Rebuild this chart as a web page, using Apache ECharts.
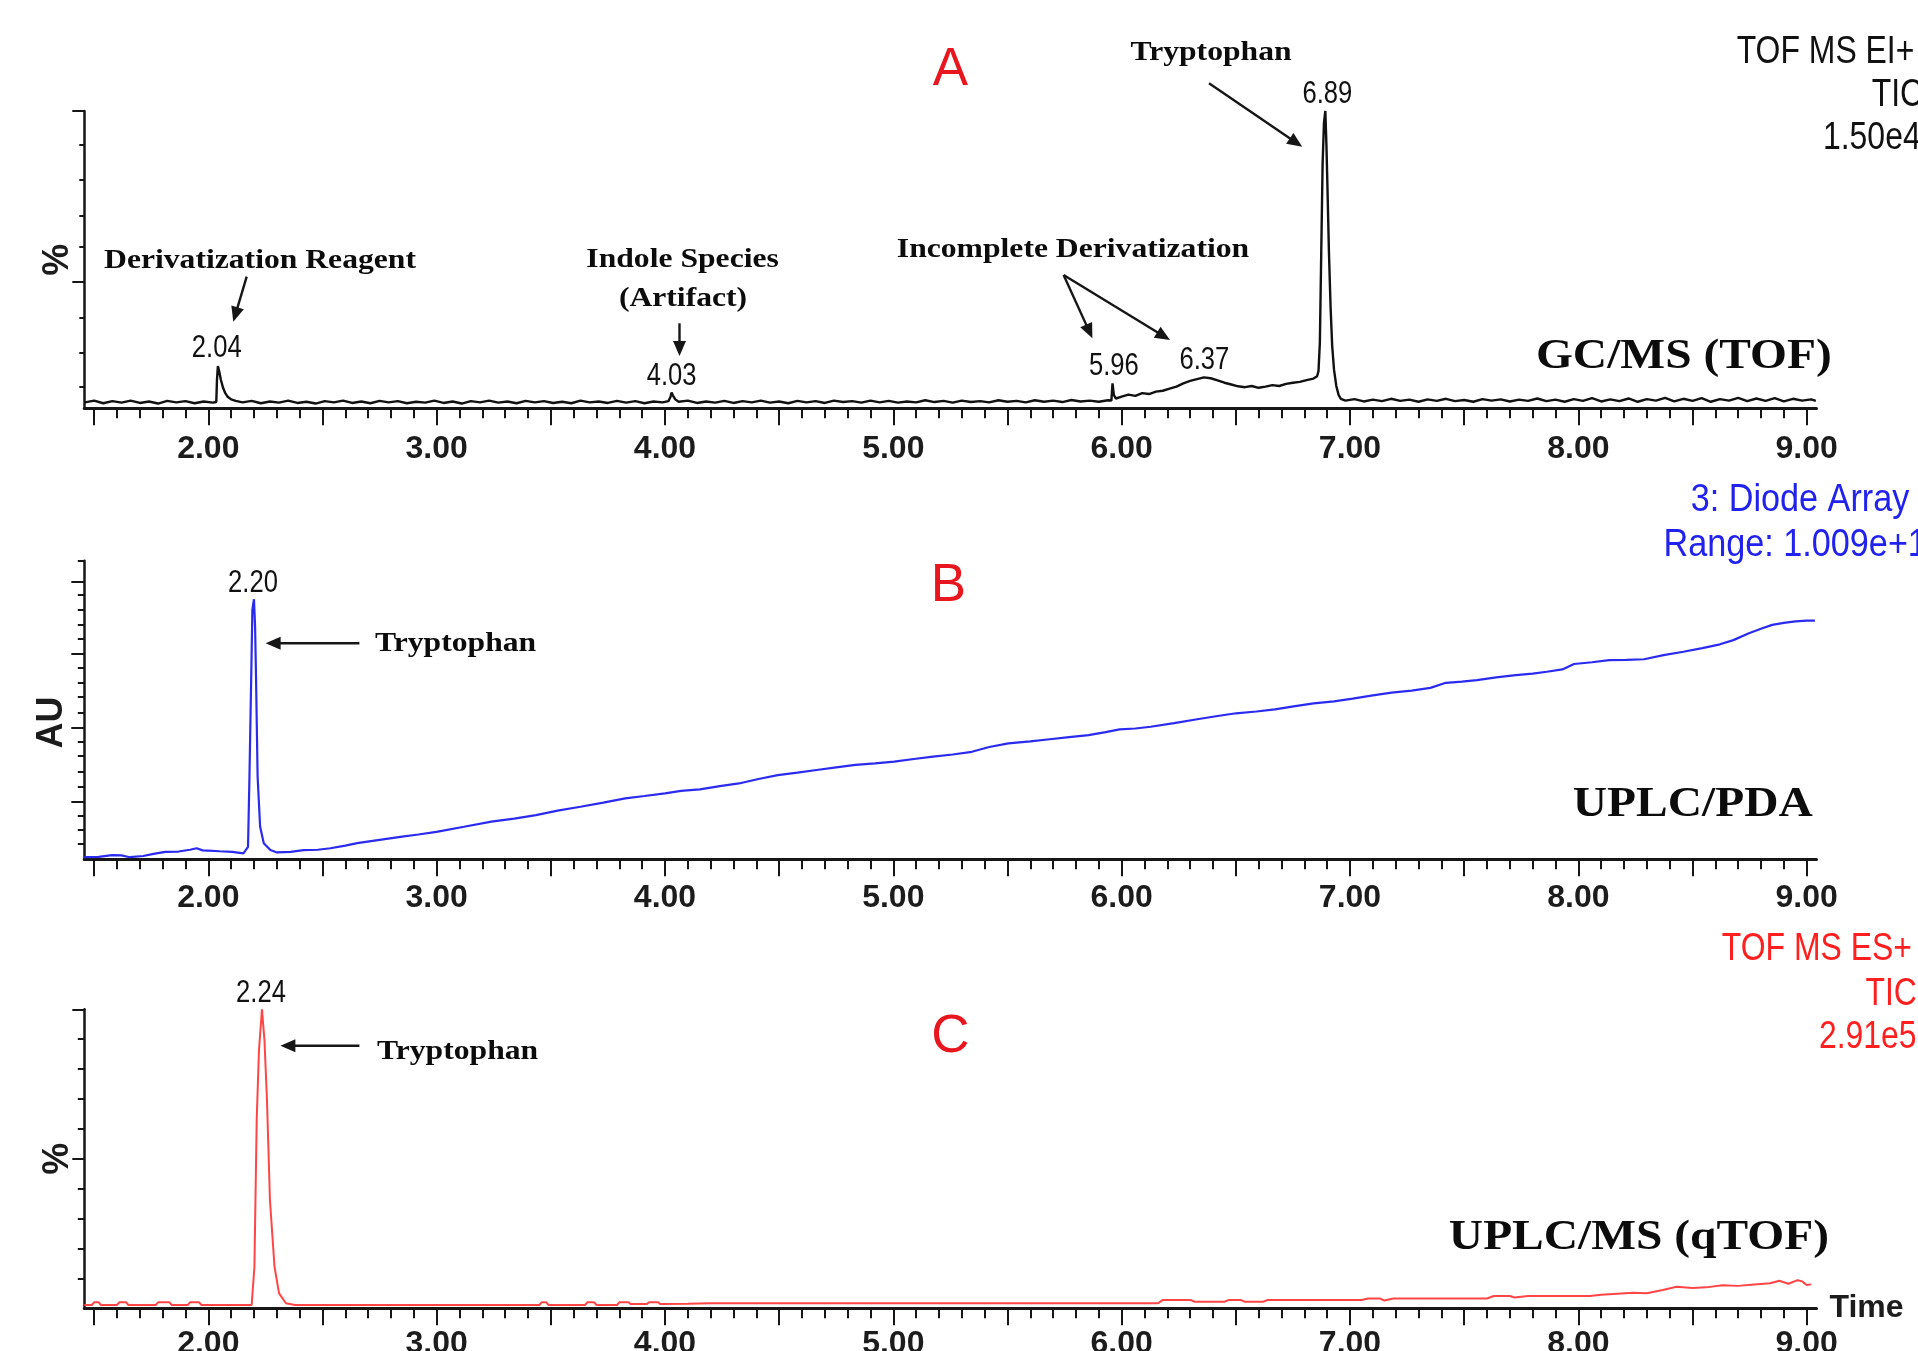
<!DOCTYPE html>
<html><head><meta charset="utf-8">
<script src="https://cdn.jsdelivr.net/npm/echarts@6/dist/echarts.min.js"></script>
<style>html,body{margin:0;padding:0;background:#fff;}#chart{width:1918px;height:1351px;}</style>
</head><body><div id="chart"></div>
<script>
// ---------------- DATA ----------------
const xMin = 1.457, xMax = 9.043;
const xLabelValues = [2, 3, 4, 5, 6, 7, 8, 9];
const xLongTickValues = [1.5, 2, 2.5, 3, 3.5, 4, 4.5, 5, 5.5, 6, 6.5, 7, 7.5, 8, 8.5, 9];
const xShortTickValues = [];
for (let i = 15; i <= 90; i++) xShortTickValues.push(i / 10);

// y tick positions (percent of full scale)
const yTicksA = [7.3, 18.7, 30.6, 54.4, 64.8, 76.8, 88.6];
const yLongTicksA = [42.6, 100];
const yMinorTicksB = [5.1, 9.8, 14.5, 24.3, 29.4, 34.6, 39.4, 49.1, 54.5, 59.2, 64.0, 73.7, 78.5, 83.5, 88.5, 100];
const yMajorTicksB = [19.3, 44.2, 69.0, 93.0];
const yTicksC = [10, 20, 30, 40, 60, 70, 80, 90];
const yLongTicksC = [50, 100];

// Panel A : GC/MS (TOF) TIC, % of 1.50e4
const aTrace = [
[1.46,2.0],[1.50,2.6],[1.54,1.7],[1.58,2.4],[1.62,1.9],[1.66,2.6],[1.70,1.8],[1.74,2.3],[1.78,1.6],[1.82,2.5],[1.86,2.0],[1.90,2.4],[1.94,1.7],[1.98,2.3],[2.02,1.9],
[2.035,2.1],[2.038,9.5],[2.042,14.2],[2.048,12.4],[2.055,9.6],[2.065,6.8],[2.075,5.0],[2.085,3.9],[2.10,3.0],[2.12,2.5],
[2.15,2.0],[2.19,2.5],[2.23,1.7],[2.27,2.3],[2.31,1.9],[2.35,2.6],[2.39,1.8],[2.43,2.2],[2.47,1.6],[2.51,2.4],[2.55,2.0],[2.59,2.6],[2.63,1.8],[2.67,2.3],[2.71,1.7],[2.75,2.5],[2.79,2.0],[2.83,2.4],[2.87,1.7],[2.91,2.2],[2.95,1.9],[2.99,2.6],[3.03,1.8],[3.07,2.3],[3.11,1.6],[3.15,2.4],[3.19,2.0],[3.23,2.6],[3.27,1.9],[3.31,2.3],[3.35,1.7],[3.39,2.5],[3.43,2.0],[3.47,2.4],[3.51,1.8],[3.55,2.2],[3.59,1.7],[3.63,2.6],[3.67,2.0],[3.71,2.3],[3.75,1.8],[3.79,2.5],[3.83,1.9],[3.87,2.4],[3.91,1.7],[3.95,2.3],[3.99,2.0],
[4.015,2.4],[4.024,3.8],[4.029,5.3],[4.035,4.3],[4.045,3.0],[4.06,2.2],
[4.10,2.6],[4.14,1.8],[4.18,2.3],[4.22,1.9],[4.26,2.5],[4.30,1.8],[4.34,2.4],[4.38,2.0],[4.42,2.6],[4.46,1.9],[4.50,2.3],[4.54,1.7],[4.58,2.5],[4.62,2.0],[4.66,2.4],[4.70,1.8],[4.74,2.6],[4.78,2.1],[4.82,2.4],[4.86,1.9],[4.90,2.6],[4.94,2.0],[4.98,2.5],[5.02,1.9],[5.06,2.3],[5.10,2.0],[5.14,2.7],[5.18,2.1],[5.22,2.5],[5.26,1.9],[5.30,2.6],[5.34,2.1],[5.38,2.4],[5.42,2.0],[5.46,2.7],[5.50,2.2],[5.54,2.5],[5.58,2.0],[5.62,2.7],[5.66,2.2],[5.70,2.6],[5.74,2.1],[5.78,2.8],[5.82,2.3],[5.86,2.6],[5.90,2.2],[5.94,2.7],
[5.955,2.6],[5.960,8.4],[5.966,4.4],[5.975,3.3],[6.00,3.9],[6.03,4.6],[6.06,4.2],[6.09,5.1],[6.12,4.8],[6.15,5.6],[6.18,5.9],[6.21,6.6],[6.24,7.3],[6.27,8.4],[6.30,9.2],[6.33,9.8],[6.36,10.4],[6.39,10.1],[6.42,9.4],[6.45,8.6],[6.48,8.0],[6.51,7.4],[6.54,7.1],[6.57,7.5],[6.60,6.9],[6.63,7.3],[6.66,7.8],[6.69,7.5],[6.72,8.2],[6.75,8.6],[6.78,8.9],[6.81,9.5],[6.84,10.0],[6.856,10.8],
[6.862,12.5],[6.868,22],[6.874,52],[6.880,82],[6.886,96],[6.892,100],[6.897,88],[6.902,72],[6.908,52],[6.915,34],[6.922,21],[6.930,13],[6.940,7.5],[6.950,4.5],[6.960,3.2],
[6.98,2.6],[7.02,3.1],[7.06,2.3],[7.10,2.9],[7.14,2.4],[7.18,3.2],[7.22,2.5],[7.26,2.9],[7.30,2.2],[7.34,3.0],[7.38,2.5],[7.42,3.2],[7.46,2.4],[7.50,2.8],[7.54,2.2],[7.58,3.1],[7.62,2.6],[7.66,3.0],[7.70,2.3],[7.74,2.9],[7.78,2.5],[7.82,3.3],[7.86,2.4],[7.90,2.9],[7.94,2.2],[7.98,3.1],[8.02,2.5],[8.06,3.4],[8.10,2.3],[8.14,3.0],[8.18,2.4],[8.22,3.3],[8.26,2.2],[8.30,3.1],[8.34,2.6],[8.38,3.5],[8.42,2.3],[8.46,3.2],[8.50,2.5],[8.54,3.4],[8.58,2.2],[8.62,3.1],[8.66,2.6],[8.70,3.5],[8.74,2.4],[8.78,3.3],[8.82,2.5],[8.86,3.4],[8.90,2.3],[8.94,3.2],[8.98,2.6],[9.02,3.0],[9.04,2.5]
];

// Panel B : UPLC/PDA, % of full scale
const bTrace = [
[1.457,0.7],[1.52,0.8],[1.578,1.4],[1.62,1.3],[1.656,0.7],[1.715,1.1],[1.76,1.8],[1.812,2.5],[1.87,2.6],[1.92,3.2],[1.949,3.7],[1.975,3.0],[2.0,2.9],[2.05,2.7],[2.105,2.5],[2.154,2.0],[2.174,4.2],
[2.18,26.6],[2.188,61.2],[2.193,83.5],[2.2,87.1],[2.205,77.9],[2.209,61.2],[2.216,27.7],[2.227,10.9],[2.243,5.4],[2.272,3.1],[2.301,2.3],
[2.36,2.5],[2.417,3.1],[2.48,3.2],[2.535,3.7],[2.6,4.6],[2.652,5.4],[2.75,6.5],[2.849,7.6],[2.92,8.3],[2.999,9.2],[3.12,10.9],[3.24,12.6],[3.34,13.6],[3.435,14.8],[3.53,16.3],[3.63,17.6],[3.73,19.0],[3.826,20.4],[3.91,21.2],[4.0,22.1],[4.07,22.9],[4.153,23.4],[4.24,24.5],[4.324,25.4],[4.41,26.9],[4.494,28.2],[4.58,29.0],[4.664,29.9],[4.75,30.8],[4.834,31.6],[4.92,32.1],[5.004,32.7],[5.09,33.6],[5.174,34.4],[5.26,35.1],[5.344,36.0],[5.42,37.6],[5.504,38.8],[5.6,39.5],[5.685,40.2],[5.77,40.9],[5.855,41.6],[5.93,42.6],[5.991,43.5],[6.06,43.8],[6.127,44.4],[6.23,45.6],[6.331,46.9],[6.42,48.0],[6.501,48.9],[6.59,49.5],[6.671,50.2],[6.76,51.3],[6.841,52.2],[6.93,52.9],[7.012,53.8],[7.1,54.9],[7.182,55.8],[7.27,56.5],[7.352,57.4],[7.42,59.1],[7.49,59.5],[7.556,60.0],[7.64,60.9],[7.726,61.7],[7.80,62.2],[7.862,62.8],[7.93,63.6],[7.981,65.4],[8.06,66.0],[8.135,66.7],[8.21,66.8],[8.288,67.0],[8.373,68.4],[8.46,69.5],[8.543,70.7],[8.62,72.0],[8.679,73.4],[8.747,75.7],[8.80,77.2],[8.849,78.5],[8.9,79.2],[8.951,79.7],[9.0,79.9],[9.036,79.9]
];

// Panel C : UPLC/MS (qTOF) TIC, % of 2.91e5
const cTrace = [
[1.457,1.1],[1.49,1.1],[1.50,2.0],[1.52,2.0],[1.53,1.1],[1.60,1.1],[1.61,2.0],[1.64,2.0],[1.65,1.1],[1.77,1.1],[1.78,2.0],[1.83,2.0],[1.84,1.1],[1.91,1.1],[1.92,2.0],[1.96,2.0],[1.97,1.1],[2.19,1.1],
[2.202,13.9],[2.212,63],[2.222,86.4],[2.235,100],[2.246,89.7],[2.257,69.7],[2.27,36.2],[2.29,13.9],[2.31,5.0],[2.34,1.7],[2.38,1.1],
[3.45,1.1],[3.46,2.0],[3.48,2.0],[3.49,1.1],[3.65,1.1],[3.66,2.0],[3.69,2.0],[3.70,1.1],[3.79,1.1],[3.80,2.0],[3.84,2.0],[3.85,1.4],[3.92,1.4],[3.93,2.0],[3.97,2.0],[3.98,1.4],[4.10,1.5],[4.20,1.7],[4.60,1.7],[5.00,1.7],[5.50,1.7],[6.16,1.7],
[6.18,2.8],[6.30,2.8],[6.32,2.2],[6.45,2.2],[6.47,2.8],[6.52,2.8],[6.54,2.2],[6.62,2.2],[6.64,2.8],[7.05,2.8],[7.08,3.3],[7.13,3.3],[7.15,2.6],[7.19,3.3],[7.60,3.3],[7.63,4.1],[7.70,4.1],[7.72,3.6],[7.78,4.1],[8.05,4.1],[8.10,4.5],[8.24,5.2],[8.30,5.0],[8.37,6.1],[8.43,7.2],[8.50,6.8],[8.56,7.0],[8.63,7.7],[8.70,7.5],[8.77,8.0],[8.84,8.4],[8.88,9.2],[8.92,8.2],[8.96,9.4],[8.98,9.0],[9.00,7.8],[9.02,8.0]
];

// ---------------- FONTS ----------------
function fontAvailable(name) {
  const ctx = document.createElement('canvas').getContext('2d');
  ctx.font = '40px monospace';
  const w1 = ctx.measureText('2.00 TOF MS Time').width;
  ctx.font = '40px "' + name + '", monospace';
  const w2 = ctx.measureText('2.00 TOF MS Time').width;
  return Math.abs(w1 - w2) > 0.5;
}
const narrowOK = fontAvailable('Liberation Sans Narrow');
const axisFont = narrowOK ? 'Liberation Sans Narrow' : 'Liberation Sans';
const axisFontSize = narrowOK ? 37 : 32;
const axisFontWeight = narrowOK ? 'normal' : 'bold';

// ---------------- LAYOUT ----------------
const gridTops = [111, 560.7, 1009.3];
const gridBottoms = [408.3, 859.3, 1308.3];
const labelMargins = [24.5, 22.5, 20];
const gridLeft = 84.3, gridRight = 1816.5;
const W = 1918, H = 1351;
const INK = '#161616';

const grids = gridTops.map((t, i) => ({
  left: gridLeft, width: gridRight - gridLeft, top: t, height: gridBottoms[i] - t,
  outerBoundsMode: 'none', containLabel: false
}));

function xAxesFor(g, withName) {
  return [
    {
      gridIndex: g, type: 'value', min: xMin, max: xMax, position: 'bottom',
      axisLine: { show: true, onZero: false, lineStyle: { color: INK, width: 3 } },
      axisTick: { show: true, length: 17, customValues: xLongTickValues, lineStyle: { color: INK, width: 2 } },
      axisLabel: { show: true, customValues: xLabelValues, margin: labelMargins[g], formatter: v => v.toFixed(2),
        fontFamily: axisFont, fontSize: axisFontSize, fontWeight: axisFontWeight, color: '#1c1c1c' },
      splitLine: { show: false },
      name: withName ? 'Time' : '', nameLocation: 'end', nameGap: 13,
      nameTextStyle: { fontFamily: axisFont, fontSize: axisFontSize, fontWeight: axisFontWeight, color: '#1c1c1c', align: 'left', verticalAlign: 'middle' }
    },
    {
      gridIndex: g, type: 'value', min: xMin, max: xMax, position: 'bottom',
      axisLine: { show: false },
      axisTick: { show: true, length: 10, customValues: xShortTickValues, lineStyle: { color: INK, width: 2 } },
      axisLabel: { show: false }, splitLine: { show: false }
    }
  ];
}

function yAxesFor(g, shortTicks, shortLen, longTicks, longLen, name, nameGap, namePad) {
  return [
    {
      gridIndex: g, type: 'value', min: 0, max: 100, position: 'left',
      axisLine: { show: true, onZero: false, lineStyle: { color: INK, width: 2.5 } },
      axisTick: { show: true, length: shortLen, customValues: shortTicks, lineStyle: { color: INK, width: 2 } },
      axisLabel: { show: false }, splitLine: { show: false },
      name: name, nameLocation: 'middle', nameRotate: 90, nameGap: nameGap,
      nameTextStyle: { fontFamily: 'Liberation Sans', fontSize: 36, fontWeight: 'bold', color: '#1c1c1c', padding: namePad }
    },
    {
      gridIndex: g, type: 'value', min: 0, max: 100, position: 'left', offset: 0,
      axisLine: { show: false },
      axisTick: { show: true, length: longLen, customValues: longTicks, lineStyle: { color: INK, width: 2 } },
      axisLabel: { show: false }, splitLine: { show: false }
    }
  ];
}

// ---------------- ANNOTATIONS ----------------
function txt(s, x, y, o) {
  return {
    type: 'text', x: x, y: y, scaleX: o.sx || 1, scaleY: 1, silent: true, z: 100,
    style: {
      text: s, fill: o.color || INK, align: o.align || 'center', verticalAlign: 'middle',
      fontFamily: o.family, fontSize: o.size, fontWeight: o.weight || 'normal'
    }
  };
}
function arrow(fx, fy, tx, ty) {
  const dx = tx - fx, dy = ty - fy, len = Math.hypot(dx, dy), ux = dx / len, uy = dy / len;
  const L = 15, Wd = 6.5, bx = tx - ux * L, by = ty - uy * L;
  return [
    { type: 'line', silent: true, z: 100, shape: { x1: fx, y1: fy, x2: bx + ux * 3, y2: by + uy * 3 }, style: { stroke: INK, lineWidth: 2.4 } },
    { type: 'polygon', silent: true, z: 100, shape: { points: [[tx, ty], [bx - uy * Wd, by + ux * Wd], [bx + uy * Wd, by - ux * Wd]] }, style: { fill: INK } }
  ];
}
const SERIF = { family: 'Liberation Serif', size: 28, weight: 'bold', sx: 1.13, color: '#0c0c0c' };
const SERIFL = Object.assign({}, SERIF, { align: 'left' });
const BIG = { family: 'Liberation Serif', size: 42, weight: 'bold', sx: 1.13, align: 'right', color: '#0c0c0c' };
const NUM = { family: 'Liberation Sans', size: 32, sx: 0.8, color: '#111' };
const HDR = { family: 'Liberation Sans', size: 38, sx: 0.84, align: 'left', color: '#111' };
const HDRB = Object.assign({}, HDR, { color: '#2222ee', sx: 0.9 });
const HDRC = Object.assign({}, HDR, { color: '#ff1f1f' });
const RED = { family: 'Liberation Sans', size: 53, color: '#e8161e' };

const graphics = [
  txt('A', 950.5, 70, RED), txt('B', 948.5, 586.5, RED), txt('C', 950.5, 1037, RED),
  txt('TOF MS EI+', 1736.7, 52.5, HDR), txt('TIC', 1871.7, 95.5, HDR), txt('1.50e4', 1823, 139, HDR),
  txt('3: Diode Array', 1690.7, 501, HDRB), txt('Range: 1.009e+1', 1663.5, 545.5, HDRB),
  txt('TOF MS ES+', 1721.8, 949.5, HDRC), txt('TIC', 1865.5, 994.5, HDRC), txt('2.91e5', 1818.9, 1038, HDRC),
  txt('Derivatization Reagent', 260, 260.5, SERIF),
  txt('Indole Species', 682.6, 259.5, SERIF),
  txt('(Artifact)', 683, 298.5, SERIF),
  txt('Incomplete Derivatization', 1073, 250, SERIF),
  txt('Tryptophan', 1211, 52.5, SERIF),
  txt('Tryptophan', 375, 644, SERIFL),
  txt('Tryptophan', 377, 1051.5, SERIFL),
  txt('GC/MS (TOF)', 1831.7, 357.5, BIG),
  txt('UPLC/PDA', 1812.7, 805, BIG),
  txt('UPLC/MS (qTOF)', 1829, 1238.5, BIG),
  txt('2.04', 216.7, 348.5, NUM), txt('4.03', 671.6, 376, NUM), txt('5.96', 1113.8, 366.5, NUM),
  txt('6.37', 1204.3, 360, NUM), txt('6.89', 1327.4, 94, NUM),
  txt('2.20', 253, 583.5, NUM), txt('2.24', 261, 993, NUM),
  ...arrow(246.7, 276.7, 233.3, 321.7),
  ...arrow(679.5, 323.3, 679.5, 356),
  ...arrow(1063.6, 275, 1092.4, 338.3),
  ...arrow(1063.6, 275, 1170, 340),
  ...arrow(1209, 83.3, 1302.2, 146.7),
  ...arrow(359.4, 643.3, 265.6, 643.3),
  ...arrow(359.4, 1045.7, 280.4, 1045.7)
];

// ---------------- CHART ----------------
const chart = echarts.init(document.getElementById('chart'), null, { renderer: 'canvas', width: W, height: H });
chart.setOption({
  animation: false,
  backgroundColor: '#ffffff',
  grid: grids,
  xAxis: [...xAxesFor(0, false), ...xAxesFor(1, false), ...xAxesFor(2, true)],
  yAxis: [
    ...yAxesFor(0, yTicksA, 5, yLongTicksA, 12, '%', 8, [0, 0, 0, 0]),
    ...yAxesFor(1, yMinorTicksB, 6.5, yMajorTicksB, 13, 'AU', 14, [0, 25, 0, 0]),
    ...yAxesFor(2, yTicksC, 6.5, yLongTicksC, 12, '%', 8, [0, 0, 0, 0])
  ],
  series: [
    { type: 'line', name: 'GC/MS (TOF)', xAxisIndex: 0, yAxisIndex: 0, data: aTrace, showSymbol: false, symbol: 'none',
      lineStyle: { color: '#111111', width: 2.4 }, z: 5 },
    { type: 'line', name: 'UPLC/PDA', xAxisIndex: 2, yAxisIndex: 2, data: bTrace, showSymbol: false, symbol: 'none',
      lineStyle: { color: '#2b2bf0', width: 2.2 }, z: 5 },
    { type: 'line', name: 'UPLC/MS (qTOF)', xAxisIndex: 4, yAxisIndex: 4, data: cTrace, showSymbol: false, symbol: 'none',
      lineStyle: { color: '#ff4545', width: 2 }, z: 5 }
  ],
  graphic: { elements: graphics }
});
</script>
</body></html>
